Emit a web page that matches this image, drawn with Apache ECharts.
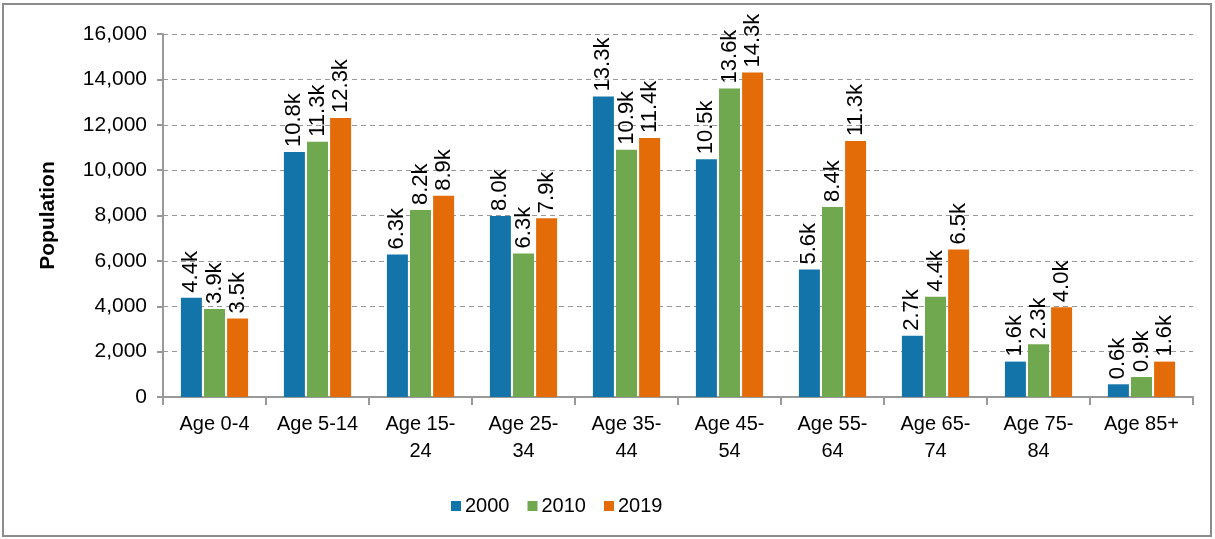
<!DOCTYPE html>
<html>
<head>
<meta charset="utf-8">
<script src="https://cdn.jsdelivr.net/npm/echarts@6/dist/echarts.min.js"></script>
<style>
  html, body { margin: 0; padding: 0; background: #fff; }
  #chart { width: 1215px; height: 539px; }
</style>
</head>
<body>
<div id="chart"></div>
<script>
var categories = ['Age 0-4', 'Age 5-14', 'Age 15-24', 'Age 25-34', 'Age 35-44',
  'Age 45-54', 'Age 55-64', 'Age 65-74', 'Age 75-84', 'Age 85+']
var years = ['2000', '2010', '2019']
var pop2000 = [4380, 10800, 6280, 7980, 13250, 10480, 5620, 2700, 1560, 560]
var pop2010 = [3880, 11250, 8240, 6330, 10900, 13600, 8380, 4420, 2330, 880]
var pop2019 = [3460, 12300, 8870, 7880, 11420, 14300, 11280, 6500, 3960, 1560]
var colors = ['#1274a8', '#70a84f', '#e36c09']

var font = 'Liberation Sans, Arial, sans-serif'

function makeSeries (name, data, color) {
  return {
    name: name,
    type: 'bar',
    data: data,
    barWidth: 21,
    barGap: '10%',
    itemStyle: { color: color },
    label: {
      show: true,
      position: 'top',
      rotate: 90,
      align: 'left',
      verticalAlign: 'middle',
      distance: 5,
      fontFamily: font,
      fontSize: 22,
      color: '#000',
      formatter: function (p) {
        return (p.value / 1000).toFixed(1) + 'k'
      }
    }
  }
}

var myChart = echarts.init(document.getElementById('chart'))
var option = {
  animation: false,
  color: colors,
  textStyle: { fontFamily: font },
  graphic: [{
    type: 'rect',
    shape: { x: 3, y: 4, width: 1208, height: 532 },
    style: { fill: 'none', stroke: '#8c8c8c', lineWidth: 2 },
    silent: true
  }],
  grid: { left: 163, right: 22, top: 34, bottom: 142 },
  legend: {
    data: years,
    left: 446,
    top: 491,
    icon: 'rect',
    itemWidth: 10,
    itemHeight: 10,
    itemGap: 18,
    textStyle: { fontFamily: font, fontSize: 20, color: '#000', padding: [0, 0, 0, -1] }
  },
  xAxis: {
    type: 'category',
    data: categories,
    axisLine: { lineStyle: { color: '#999', width: 2 } },
    axisTick: { show: true, length: 8, lineStyle: { color: '#999', width: 2 } },
    axisLabel: {
      margin: 14,
      fontFamily: font,
      fontSize: 20,
      color: '#000',
      lineHeight: 27,
      interval: 0,
      formatter: function (v) {
        if (v.length > 8) {
          var i = v.indexOf('-')
          return v.slice(0, i + 1) + '\n' + v.slice(i + 1)
        }
        return v
      }
    }
  },
  yAxis: {
    type: 'value',
    min: 0,
    max: 16000,
    interval: 2000,
    name: 'Population',
    nameLocation: 'middle',
    nameGap: 104,
    nameTextStyle: { fontFamily: font, fontSize: 21, fontWeight: 'bold', color: '#000' },
    axisLine: { show: true, lineStyle: { color: '#999', width: 2 } },
    axisTick: { show: true, length: 6, lineStyle: { color: '#999', width: 2 } },
    axisLabel: {
      margin: 16,
      fontFamily: font,
      fontSize: 21,
      color: '#000',
      formatter: function (v) { return v.toLocaleString('en-US') }
    },
    splitLine: { lineStyle: { color: '#999', type: [5, 4], width: 1 } }
  },
  series: [
    makeSeries(years[0], pop2000, colors[0]),
    makeSeries(years[1], pop2010, colors[1]),
    makeSeries(years[2], pop2019, colors[2])
  ]
}
myChart.setOption(option)
</script>
</body>
</html>
